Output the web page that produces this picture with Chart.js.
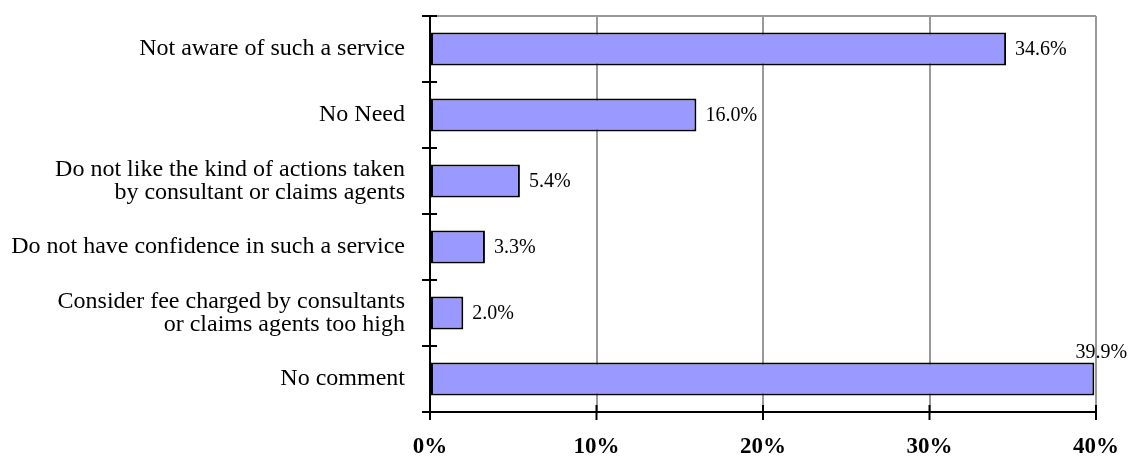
<!DOCTYPE html>
<html>
<head>
<meta charset="utf-8">
<script src="https://cdn.jsdelivr.net/npm/chart.js@4.4.1/dist/chart.umd.min.js"></script>
<style>
  html, body { margin: 0; padding: 0; background: #fff; }
  #wrap { width: 1128px; height: 456px; position: relative; }
</style>
</head>
<body>
<div id="wrap"><canvas id="c" width="1128" height="456"></canvas></div>
<script>
// Reasons for not using consultant / claims agent services (% of respondents)
const categories = [
  'Not aware of such a service',
  'No Need',
  ['Do not like the kind of actions taken', 'by consultant or claims agents'],
  'Do not have confidence in such a service',
  ['Consider fee charged by consultants', 'or claims agents too high'],
  'No comment'
];
const shares = [34.6, 16.0, 5.4, 3.3, 2.0, 39.9];
const tickValues = [0, 10, 20, 30, 40];

const SERIF = '"Liberation Serif", "Times New Roman", serif';

// Ticks that cross the axis line, plus the axis lines and the top frame.
const crossTicks = {
  id: 'crossTicks',
  afterDatasetsDraw(chart) {
    const { ctx, chartArea, scales } = chart;
    ctx.save();
    // top frame line
    ctx.strokeStyle = '#999';
    ctx.lineWidth = 2;
    ctx.beginPath();
    ctx.moveTo(chartArea.left, chartArea.top);
    ctx.lineTo(chartArea.right, chartArea.top);
    ctx.stroke();

    ctx.strokeStyle = '#000';
    ctx.lineWidth = 2;
    const inner = 7, outer = 8;
    // y-axis: boundaries between categories
    const y = scales.y;
    for (let i = 0; i <= categories.length; i++) {
      const py = y.getPixelForValue(i - 0.5);
      ctx.beginPath();
      ctx.moveTo(chartArea.left - outer, py);
      ctx.lineTo(chartArea.left + inner, py);
      ctx.stroke();
    }
    // x-axis ticks
    const x = scales.x;
    tickValues.forEach(v => {
      const px = x.getPixelForValue(v);
      ctx.beginPath();
      ctx.moveTo(px, chartArea.bottom - inner);
      ctx.lineTo(px, chartArea.bottom + outer);
      ctx.stroke();
    });
    // axis lines
    ctx.beginPath();
    ctx.moveTo(chartArea.left, chartArea.top - 1);
    ctx.lineTo(chartArea.left, chartArea.bottom);
    ctx.lineTo(chartArea.right + 1, chartArea.bottom);
    ctx.stroke();
    ctx.restore();
  }
};

// Value labels: right of each bar, or above its end when there is no room.
const valueLabels = {
  id: 'valueLabels',
  afterDatasetsDraw(chart) {
    const { ctx } = chart;
    const meta = chart.getDatasetMeta(0);
    ctx.save();
    ctx.font = '20px ' + SERIF;
    ctx.fillStyle = '#000';
    meta.data.forEach((bar, i) => {
      const txt = shares[i].toFixed(1) + '%';
      const w = ctx.measureText(txt).width;
      if (bar.x + 9 + w > chart.width) {
        ctx.textAlign = 'center';
        ctx.textBaseline = 'alphabetic';
        ctx.fillText(txt, bar.x + 7, bar.y - bar.height / 2 - 5);
      } else {
        ctx.textAlign = 'left';
        ctx.textBaseline = 'middle';
        ctx.fillText(txt, bar.x + 9, bar.y + 1);
      }
    });
    ctx.restore();
  }
};

new Chart(document.getElementById('c'), {
  type: 'bar',
  data: {
    labels: categories,
    datasets: [{
      data: shares,
      backgroundColor: '#9999FF',
      borderColor: '#000',
      borderWidth: 2,
      borderSkipped: false,
      barPercentage: 0.5,
      categoryPercentage: 1.0
    }]
  },
  options: {
    indexAxis: 'y',
    responsive: false,
    animation: false,
    layout: { padding: { top: 16, right: 32, left: 0, bottom: 0 } },
    plugins: { legend: { display: false }, tooltip: { enabled: false } },
    scales: {
      x: {
        min: 0,
        max: 40,
        afterBuildTicks(scale) { scale.ticks = tickValues.map(v => ({ value: v })); },
        afterFit(scale) {
          scale.height = 44;
          scale.paddingLeft = 0;
          scale.paddingRight = 0;
        },
        grid: { color: '#999', lineWidth: 2, drawTicks: false },
        border: { display: false },
        ticks: {
          padding: 21,
          color: '#000',
          font: { family: SERIF, size: 23, weight: 'bold' },
          callback: v => v + '%'
        }
      },
      y: {
        afterFit(scale) {
          scale.width = 430;
          scale.paddingTop = 0;
          scale.paddingBottom = 0;
        },
        grid: { drawOnChartArea: false, drawTicks: false },
        border: { display: false },
        ticks: {
          padding: 25,
          color: '#000',
          font: { family: SERIF, size: 24, lineHeight: 0.96 }
        }
      }
    }
  },
  plugins: [crossTicks, valueLabels]
});
</script>
</body>
</html>
